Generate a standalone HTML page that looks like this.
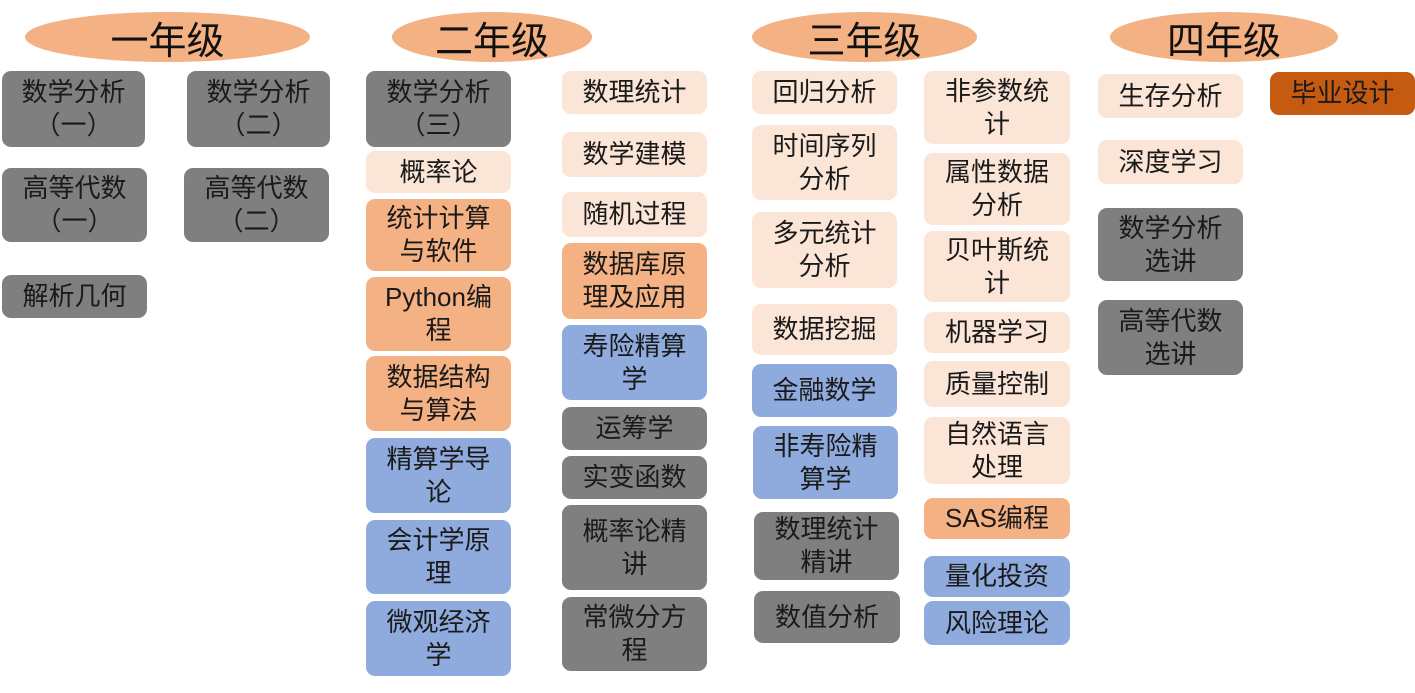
<!DOCTYPE html>
<html><head><meta charset="utf-8"><style>
body{margin:0;width:1415px;height:693px;background:#fff;position:relative;overflow:hidden;font-family:"Liberation Sans","Noto Sans CJK SC",sans-serif;}
.e{position:absolute;background:#f4b183;border-radius:50%;display:flex;align-items:center;justify-content:center;font-size:38px;color:#111;}
.b{position:absolute;border-radius:9px;display:flex;align-items:center;justify-content:center;text-align:center;font-size:26px;line-height:33px;color:#1a1a1a;box-sizing:border-box;padding:0 4px;}
.g{background:#7f7f7f}.p{background:#fbe5d6}.o{background:#f4b183}.u{background:#8faadc}.d{background:#c55a11}
</style></head><body>
<div class="e" style="left:25px;top:12px;width:285px;height:50px">一年级</div>
<div class="e" style="left:392px;top:12px;width:200px;height:50px">二年级</div>
<div class="e" style="left:752px;top:12px;width:225px;height:50px">三年级</div>
<div class="e" style="left:1110px;top:12px;width:228px;height:50px">四年级</div>

<div class="b g" style="left:2px;top:71px;width:143px;height:76px">数学分析<br>（一）</div>
<div class="b g" style="left:2px;top:168px;width:145px;height:74px">高等代数<br>（一）</div>
<div class="b g" style="left:2px;top:275px;width:145px;height:43px">解析几何</div>
<div class="b g" style="left:187px;top:71px;width:143px;height:76px">数学分析<br>（二）</div>
<div class="b g" style="left:184px;top:168px;width:145px;height:74px">高等代数<br>（二）</div>

<div class="b g" style="left:366px;top:71px;width:145px;height:76px">数学分析<br>（三）</div>
<div class="b p" style="left:366px;top:151px;width:145px;height:42px">概率论</div>
<div class="b o" style="left:366px;top:199px;width:145px;height:72px">统计计算<br>与软件</div>
<div class="b o" style="left:366px;top:277px;width:145px;height:74px">Python编<br>程</div>
<div class="b o" style="left:366px;top:356px;width:145px;height:75px">数据结构<br>与算法</div>
<div class="b u" style="left:366px;top:438px;width:145px;height:75px">精算学导<br>论</div>
<div class="b u" style="left:366px;top:520px;width:145px;height:74px">会计学原<br>理</div>
<div class="b u" style="left:366px;top:601px;width:145px;height:75px">微观经济<br>学</div>

<div class="b p" style="left:562px;top:71px;width:145px;height:43px">数理统计</div>
<div class="b p" style="left:562px;top:132px;width:145px;height:45px">数学建模</div>
<div class="b p" style="left:562px;top:192px;width:145px;height:45px">随机过程</div>
<div class="b o" style="left:562px;top:243px;width:145px;height:76px">数据库原<br>理及应用</div>
<div class="b u" style="left:562px;top:325px;width:145px;height:75px">寿险精算<br>学</div>
<div class="b g" style="left:562px;top:407px;width:145px;height:43px">运筹学</div>
<div class="b g" style="left:562px;top:456px;width:145px;height:43px">实变函数</div>
<div class="b g" style="left:562px;top:505px;width:145px;height:85px">概率论精<br>讲</div>
<div class="b g" style="left:562px;top:597px;width:145px;height:74px">常微分方<br>程</div>

<div class="b p" style="left:752px;top:71px;width:145px;height:43px">回归分析</div>
<div class="b p" style="left:752px;top:125px;width:145px;height:75px">时间序列<br>分析</div>
<div class="b p" style="left:752px;top:212px;width:145px;height:76px">多元统计<br>分析</div>
<div class="b p" style="left:752px;top:304px;width:145px;height:51px">数据挖掘</div>
<div class="b u" style="left:752px;top:364px;width:145px;height:53px">金融数学</div>
<div class="b u" style="left:753px;top:426px;width:145px;height:73px">非寿险精<br>算学</div>
<div class="b g" style="left:754px;top:512px;width:145px;height:68px">数理统计<br>精讲</div>
<div class="b g" style="left:754px;top:591px;width:146px;height:52px">数值分析</div>

<div class="b p" style="left:924px;top:71px;width:146px;height:73px">非参数统<br>计</div>
<div class="b p" style="left:924px;top:153px;width:146px;height:72px">属性数据<br>分析</div>
<div class="b p" style="left:924px;top:231px;width:146px;height:71px">贝叶斯统<br>计</div>
<div class="b p" style="left:924px;top:312px;width:146px;height:41px">机器学习</div>
<div class="b p" style="left:924px;top:361px;width:146px;height:46px">质量控制</div>
<div class="b p" style="left:924px;top:417px;width:146px;height:67px">自然语言<br>处理</div>
<div class="b o" style="left:924px;top:498px;width:146px;height:41px">SAS编程</div>
<div class="b u" style="left:924px;top:556px;width:146px;height:41px">量化投资</div>
<div class="b u" style="left:924px;top:601px;width:146px;height:44px">风险理论</div>

<div class="b p" style="left:1098px;top:74px;width:145px;height:44px">生存分析</div>
<div class="b p" style="left:1098px;top:140px;width:145px;height:44px">深度学习</div>
<div class="b g" style="left:1098px;top:208px;width:145px;height:73px">数学分析<br>选讲</div>
<div class="b g" style="left:1098px;top:300px;width:145px;height:75px">高等代数<br>选讲</div>
<div class="b d" style="left:1270px;top:72px;width:145px;height:43px">毕业设计</div>
</body></html>
